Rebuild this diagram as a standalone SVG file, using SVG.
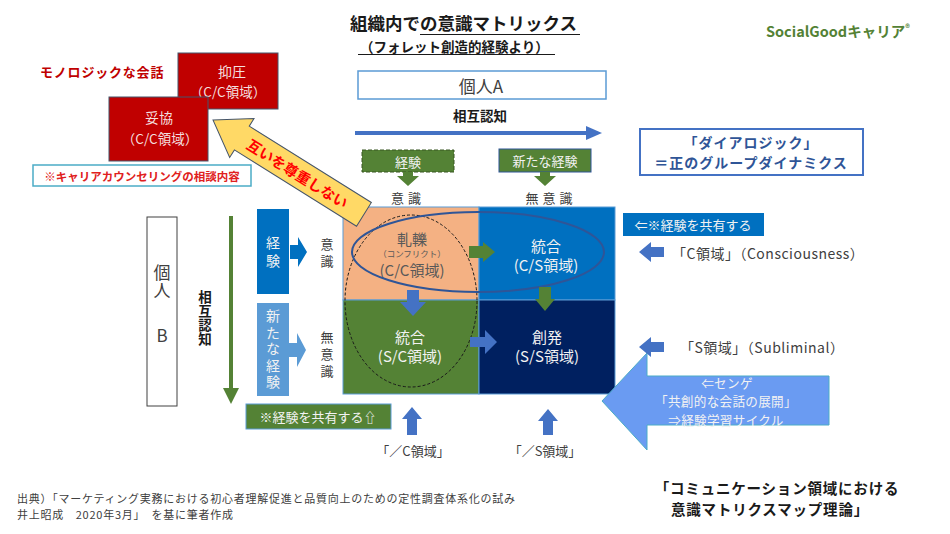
<svg xmlns="http://www.w3.org/2000/svg" width="950" height="534" viewBox="0 0 950 534">
<style>
text{font-family:"Noto Sans CJK JP","Noto Sans",sans-serif;}
.c{text-anchor:middle;dominant-baseline:central;}
.v{writing-mode:vertical-rl;text-anchor:middle;dominant-baseline:central;}
.b{font-weight:bold;}
.w{fill:#f2f2f2;}
.g{fill:#404040;}
.red{fill:#c00000;}
.redbox{fill:#c00000;stroke:#44546a;stroke-width:1;}
.cell{stroke:#5b9bd5;stroke-width:1;}
.gbox{fill:#548235;}
.blu{fill:#4472c4;}
</style>
<rect width="950" height="534" fill="#ffffff"/>

<g id="title">
<text x="350" y="30" font-size="17.5" class="b" fill="#1a1a1a">組織内での意識マトリックス</text>
<line x1="420" y1="34.5" x2="580" y2="34.5" stroke="#1a1a1a" stroke-width="1.2"/>
<text x="360" y="51.5" font-size="13.5" class="b" fill="#1a1a1a">（フォレット創造的経験より）</text>
<line x1="358" y1="54.5" x2="555" y2="54.5" stroke="#1a1a1a" stroke-width="1.2"/>
</g>

<g id="brand">
<text x="766" y="37" font-size="14.5" class="b" fill="#548235">SocialGoodキャリア<tspan font-size="9" dy="-5">®</tspan></text>
</g>

<g id="monologic">
<text x="40" y="77" font-size="13" class="b red" letter-spacing="0.8">モノロジックな会話</text>
</g>

<g id="yokuatsu">
<rect x="178" y="53" width="100" height="56" class="redbox"/>
<text class="c" fill="#f4dede"><tspan x="232" y="71" font-size="14">抑圧</tspan><tspan x="228" y="91" font-size="13.5">（C/C領域）</tspan></text>
</g>

<g id="dakyo">
<rect x="109" y="97" width="99" height="64" class="redbox"/>
<text class="c" fill="#f4dede"><tspan x="159" y="117" font-size="14">妥協</tspan><tspan x="160" y="137.5" font-size="13.5">（C/C領域）</tspan></text>
</g>

<g id="counseling">
<rect x="33" y="165" width="218" height="21" fill="#ffffff" stroke="#4bacc6" stroke-width="1.5"/>
<text x="142" y="176" font-size="11.5" class="c b" fill="#e02020">※キャリアカウンセリングの相談内容</text>
</g>

<g id="kojinA">
<rect x="358" y="71" width="248" height="28" fill="#ffffff" stroke="#5b9bd5" stroke-width="1.5"/>
<text x="481" y="85" font-size="17" class="c g">個人A</text>
</g>

<g id="sogoninchiA">
<text x="480" y="115" font-size="13.5" class="c b" fill="#1a1a1a">相互認知</text>
</g>

<g id="dialogic">
<rect x="640" y="129" width="223" height="46" fill="#ffffff" stroke="#4472c4" stroke-width="2"/>
<text font-size="14" class="c b" fill="#2f5597" letter-spacing="1"><tspan x="751" y="142">「ダイアロジック」</tspan><tspan x="751" y="162">＝正のグループダイナミクス</tspan></text>
</g>

<g id="keiken-top">
<rect x="362" y="150" width="92" height="22" class="gbox" stroke="#385723" stroke-width="1" stroke-dasharray="4,2"/>
<text x="408" y="161" font-size="13" class="c w">経験</text>
<text x="408" y="197" font-size="13" class="c g" letter-spacing="4">意識</text>
</g>

<g id="aratana-top">
<rect x="499" y="149" width="92" height="23" class="gbox" stroke="#2f5597" stroke-width="1"/>
<text x="545" y="160.5" font-size="13" class="c w">新たな経験</text>
<text x="551" y="197" font-size="13" class="c g" letter-spacing="4">無意識</text>
</g>

<g id="cell-cc">
<rect x="343" y="207" width="136" height="93" fill="#f4b183" class="cell"/>
<text class="c" fill="#595959"><tspan x="412" y="238" font-size="15">軋轢</tspan><tspan x="412" y="253" font-size="8.5">（コンフリクト）</tspan><tspan x="412" y="268.5" font-size="15">(C/C領域)</tspan></text>
</g>

<g id="cell-cs">
<rect x="479" y="207" width="136" height="93" fill="#0070c0" class="cell"/>
<text font-size="15" class="c w"><tspan x="546" y="245">統合</tspan><tspan x="546" y="264">(C/S領域)</tspan></text>
</g>

<g id="cell-sc">
<rect x="343" y="300" width="136" height="94" fill="#548235" class="cell"/>
<text font-size="15" class="c w"><tspan x="410" y="336">統合</tspan><tspan x="410" y="355">(S/C領域)</tspan></text>
</g>

<g id="cell-ss">
<rect x="479" y="300" width="136" height="94" fill="#002060" class="cell"/>
<text font-size="15" class="c w"><tspan x="547" y="336">創発</tspan><tspan x="547" y="355">(S/S領域)</tspan></text>
</g>

<g id="ellipses">
<ellipse cx="411" cy="301" rx="66" ry="86" fill="none" stroke="#1a1a1a" stroke-width="1" stroke-dasharray="3,2"/>
<ellipse cx="478" cy="252" rx="126" ry="40" fill="none" stroke="#2f5597" stroke-width="2"/>
</g>

<g id="kojinB">
<rect x="147" y="217" width="30" height="189" fill="#ffffff" stroke="#404040" stroke-width="1"/>
<text x="162" y="282" font-size="17" class="v g" letter-spacing="1">個人</text>
<text x="162" y="334" font-size="17" class="c g">B</text>
</g>

<g id="sogoninchiB">
<text x="205" y="318" font-size="13.5" class="v b" fill="#1a1a1a" letter-spacing="0.5">相互認知</text>
</g>

<g id="keiken-left">
<rect x="257" y="209" width="32" height="85" fill="#0070c0"/>
<text x="273" y="254" font-size="14" class="v w" letter-spacing="4">経験</text>
<text x="327" y="255" font-size="13" class="v g" letter-spacing="4">意識</text>
</g>

<g id="aratana-left">
<rect x="257" y="303" width="32" height="93" fill="#5b9bd5"/>
<text x="273" y="350" font-size="14" class="v w" letter-spacing="2.4">新たな経験</text>
<text x="327" y="356" font-size="13" class="v g" letter-spacing="4">無意識</text>
</g>

<g id="share-bottom">
<rect x="246" y="404" width="145" height="25" class="gbox" stroke="#5b9bd5" stroke-width="1"/>
<text x="318" y="416.5" font-size="13" class="c w">※経験を共有する⇧</text>
</g>

<g id="share-right">
<rect x="623" y="213" width="141" height="23" fill="#0070c0"/>
<text x="693" y="224.5" font-size="13" class="c w">⇐※経験を共有する</text>
</g>

<g id="label-c">
<text x="672" y="253" font-size="14" class="g" dominant-baseline="central" letter-spacing="0.5">「C領域」（Consciousness）</text>
</g>
<g id="label-s">
<text x="680" y="347" font-size="14" class="g" dominant-baseline="central" letter-spacing="0.5">「S領域」（Subliminal）</text>
</g>

<g id="senge">
<polygon points="602,401 647,353 647,376 829,376 829,425 647,425 647,450" fill="#6a9bf2" stroke="#4bacc6" stroke-width="1"/>
<text font-size="12.6" class="c w" letter-spacing="0.3"><tspan x="727" y="381.5">⇐センゲ</tspan><tspan x="726" y="400">「共創的な会話の展開」</tspan><tspan x="726" y="418.5">⇒経験学習サイクル</tspan></text>
</g>

<g id="label-slash">
<text x="413" y="450" font-size="13" class="c g">「／C領域」</text>
<text x="545" y="450" font-size="13" class="c g">「／S領域」</text>
</g>

<g id="connectors">
<line x1="355" y1="133" x2="588" y2="133" stroke="#4472c4" stroke-width="4"/>
<polygon points="586,126 602,133 586,140" class="blu"/>
<line x1="231" y1="216" x2="231" y2="390" stroke="#548235" stroke-width="4"/>
<polygon points="223,388 239,388 231,404" fill="#548235"/>
<polygon points="403,172 413,172 413,176 419,176 408,186 397,176 403,176" fill="#548235"/>
<polygon points="540,172 550,172 550,176 556,176 545,186 534,176 540,176" fill="#548235"/>
<polygon points="469,246 483,246 483,242 495,252 483,262 483,258 469,258" fill="#548235"/>
<polygon points="539,287 551,287 551,299 555,299 545,311 535,299 539,299" fill="#548235"/>
<polygon points="407,290 419,290 419,302 426,302 413,316 400,302 407,302" class="blu"/>
<polygon points="470,337 485,337 485,330 497,342 485,354 485,347 470,347" class="blu"/>
<polygon points="290,245 298,245 298,237 307,252 298,267 298,259 290,259" fill="#0070c0"/>
<polygon points="289,343 297,343 297,333 306,350 297,367 297,357 289,357" fill="#5b9bd5"/>
<polygon points="639,252 651,242 651,247 664,247 664,257 651,257 651,262" class="blu"/>
<polygon points="639,347 651,337 651,342 664,342 664,352 651,352 651,357" class="blu"/>
<polygon points="412,407 422,419 417,419 417,435 407,435 407,419 402,419" class="blu"/>
<polygon points="548,409 558,421 553,421 553,435 543,435 543,421 538,421" class="blu"/>
<g transform="translate(213,120) rotate(32)">
<polygon points="0,0 34,-23 34,-14 178,-14 178,14 34,14 34,23" fill="#ffd966" stroke="#44546a" stroke-width="1"/>
<text x="100" y="0" font-size="14.5" class="c b" fill="#ff0000">互いを尊重しない</text>
</g>
</g>

<g id="source">
<text font-size="11" class="g" dominant-baseline="central" letter-spacing="0.75"><tspan x="17" y="498">出典）「マーケティング実務における初心者理解促進と品質向上のための定性調査体系化の試み</tspan><tspan x="17" y="514">井上昭成　2020年3月」　を基に筆者作成</tspan></text>
</g>

<g id="theory">
<text font-size="14.5" class="c b" fill="#1a1a1a" letter-spacing="0.8"><tspan x="777" y="486.5">「コミュニケーション領域における</tspan><tspan x="770" y="507.5">意識マトリクスマップ理論」</tspan></text>
</g>
</svg>
